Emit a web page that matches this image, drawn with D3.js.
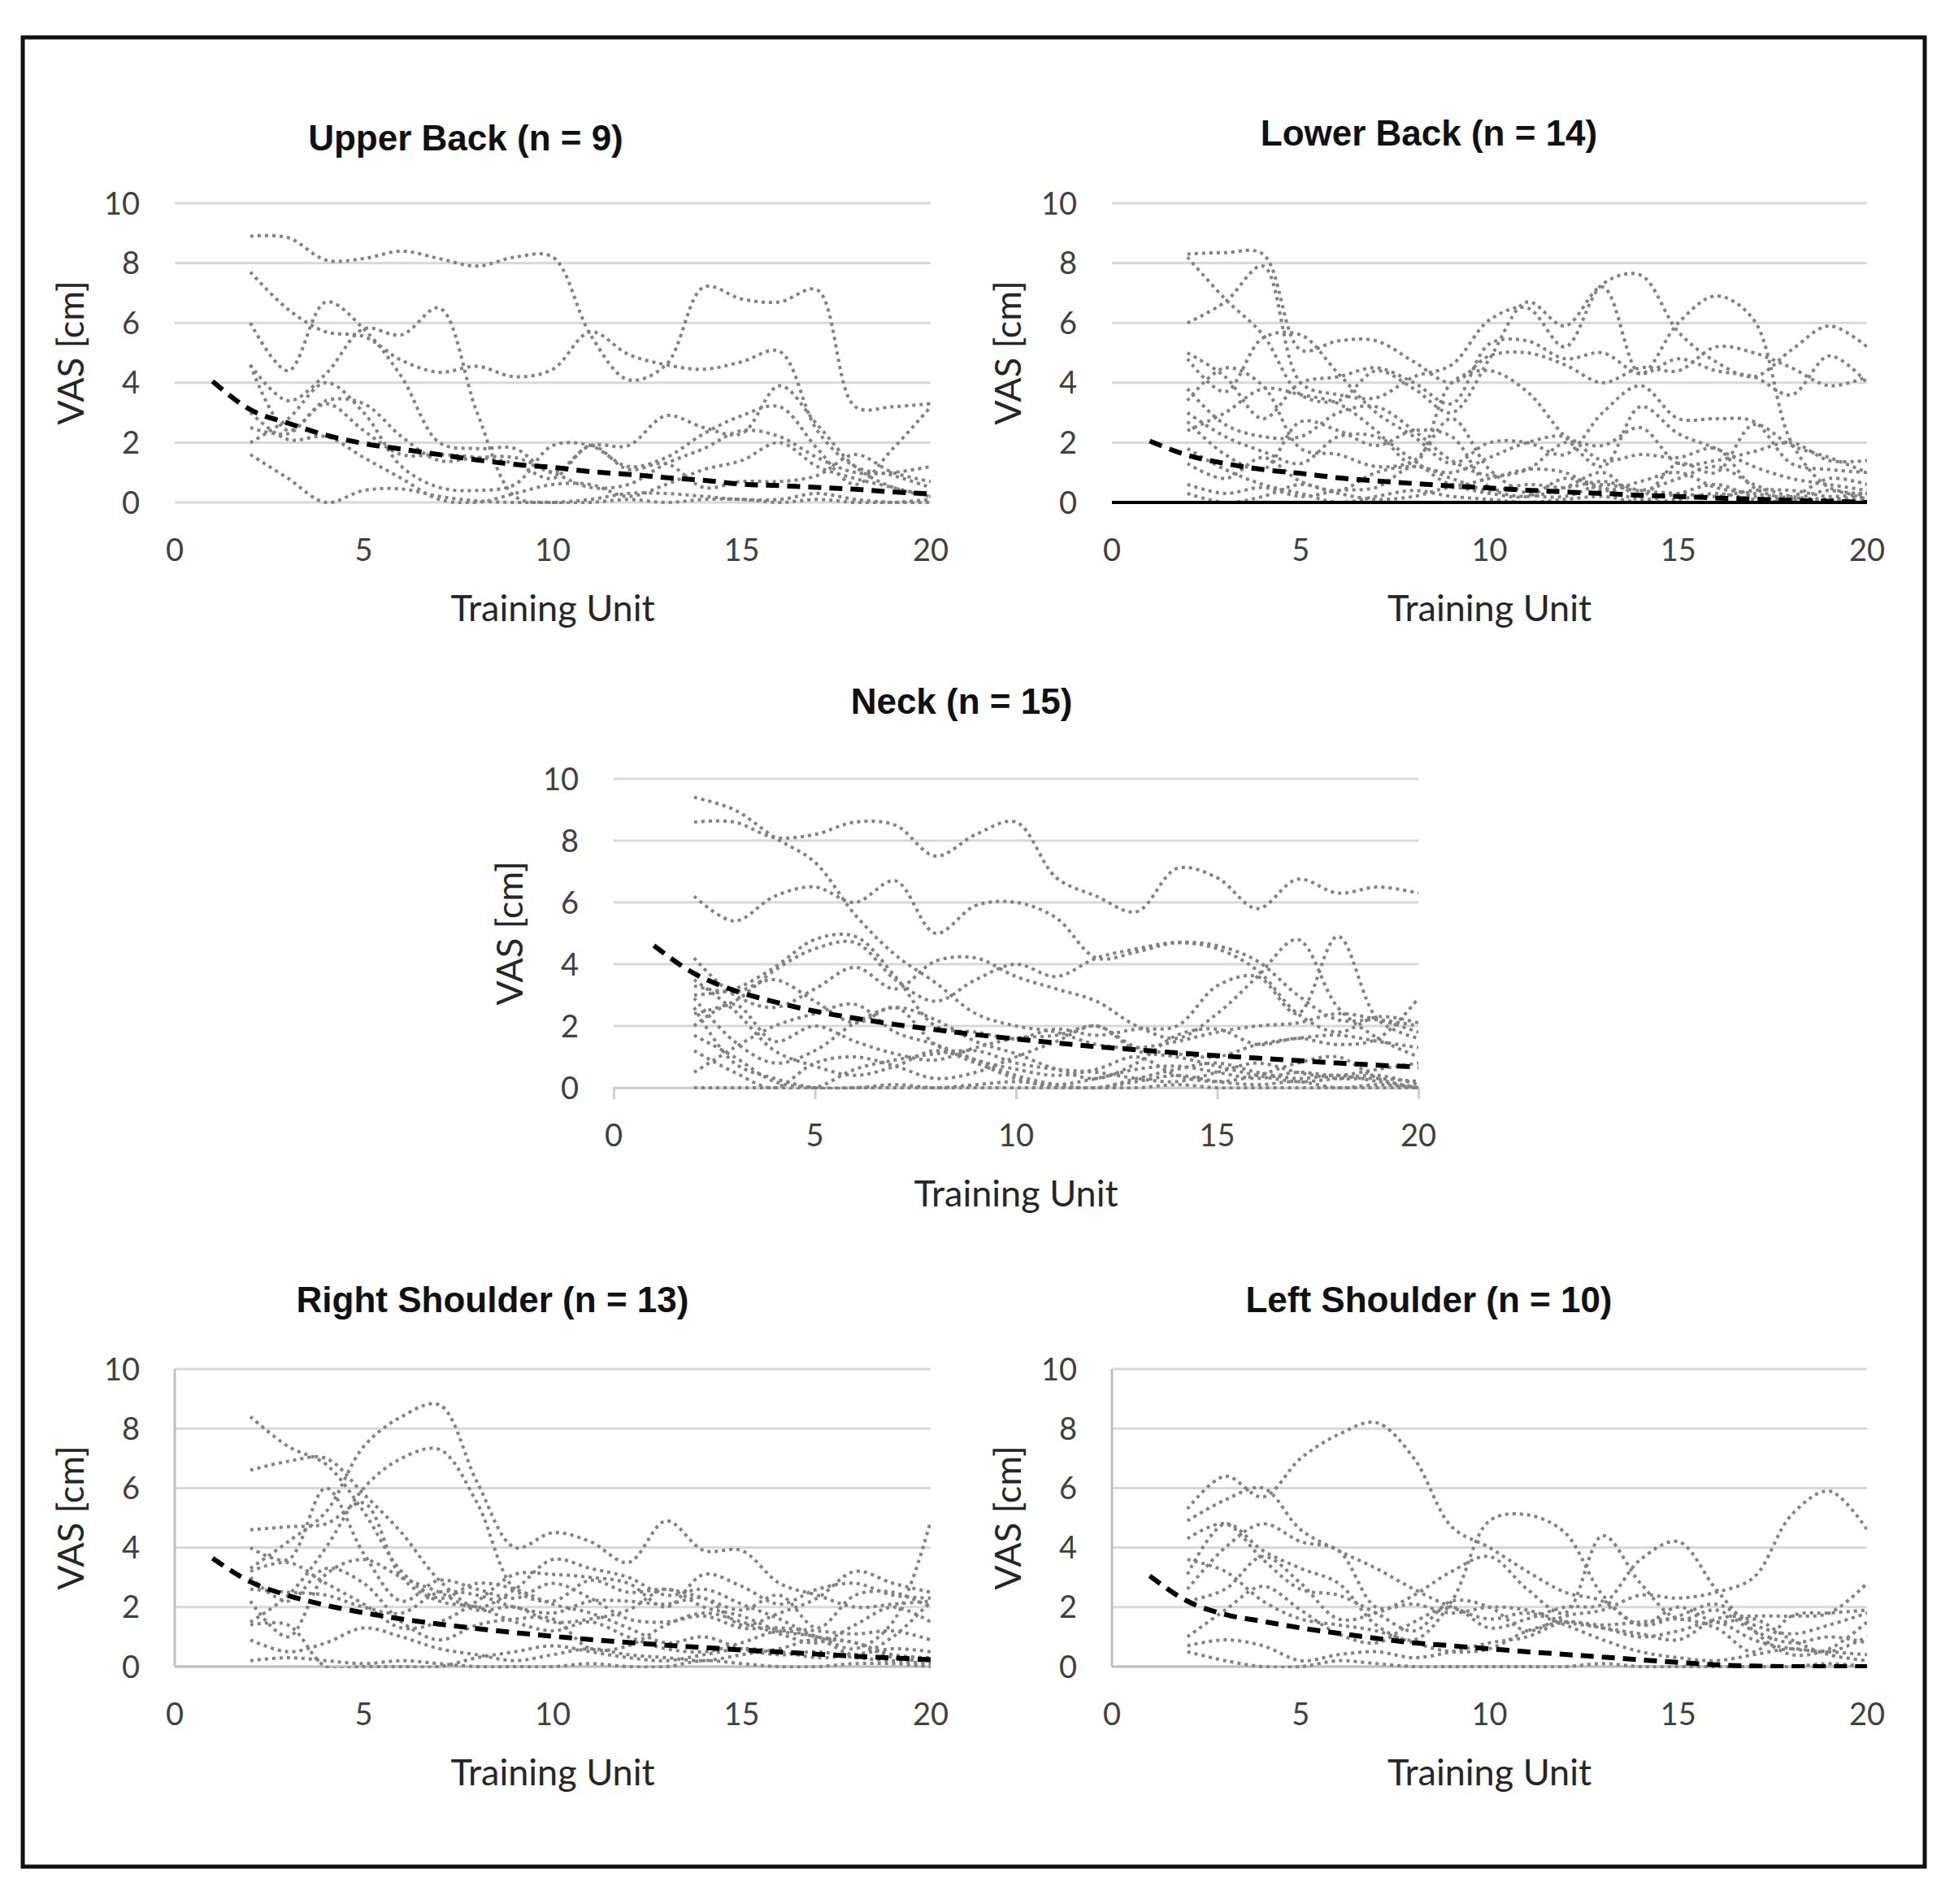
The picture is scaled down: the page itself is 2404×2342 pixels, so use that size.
<!DOCTYPE html>
<html>
<head>
<meta charset="utf-8">
<script src="https://cdn.jsdelivr.net/npm/d3@7"></script>
<style>
  body { margin: 0; background: #fff; }
</style>
</head>
<body>
<div id="chart"></div>
<script>
// training units with a measurement (unit 1 only has the trend)
var units = [2, 3, 4, 5, 6, 7, 8, 9, 10, 11, 12, 13, 14, 15, 16, 17, 18, 19, 20];
var trendUnits = [1, 2, 3, 4, 5, 6, 7, 8, 9, 10, 11, 12, 13, 14, 15, 16, 17, 18, 19, 20];
var xTicks = [0, 5, 10, 15, 20];
var yTicks = [0, 2, 4, 6, 8, 10];

var upperBack = [
  [8.9, 8.85, 8.1, 8.15, 8.4, 8.15, 7.9, 8.2, 8.2, 5.6, 4.1, 4.6, 7.2, 6.8, 6.7, 7.1, 3.2, 3.2, 3.3],
  [7.7, 6.45, 5.7, 5.55, 4.75, 4.35, 4.55, 4.2, 4.45, 5.7, 4.95, 4.6, 4.45, 4.7, 5.05, 2.4, 1.2, 0.9, 0.5],
  [6.0, 4.4, 6.7, 5.8, 4.2, 2.0, 1.8, 1.8, 1.0, 1.9, 1.9, 2.9, 2.5, 2.3, 3.9, 2.6, 1.2, 0.5, 0.2],
  [4.6, 3.4, 4.3, 5.8, 5.6, 6.5, 3.0, 0.2, 0.0, 0.0, 0.1, 0.0, 0.1, 0.1, 0.0, 0.1, 0.0, 0.0, 0.1],
  [1.6, 0.8, 0.0, 0.4, 0.45, 0.2, 0.05, 0.0, 0.0, 0.1, 0.3, 0.3, 0.2, 0.1, 0.1, 0.3, 0.1, 0.0, 0.0],
  [4.6, 2.4, 3.4, 3.3, 2.2, 1.4, 1.5, 1.5, 1.0, 0.5, 0.6, 1.3, 1.8, 2.4, 2.2, 1.5, 1.0, 1.0, 1.2],
  [2.0, 2.8, 4.0, 3.0, 1.2, 0.5, 0.4, 0.6, 1.9, 1.9, 1.2, 1.5, 2.3, 2.9, 3.2, 1.8, 0.6, 1.8, 3.2],
  [3.0, 2.1, 2.2, 1.5, 0.8, 0.1, 0.0, 0.3, 0.6, 0.6, 0.2, 0.6, 1.1, 1.4, 2.0, 1.2, 0.8, 0.5, 0.2],
  [2.5, 2.3, 3.3, 2.4, 1.6, 1.6, 1.5, 1.3, 0.8, 1.9, 1.1, 1.3, 0.5, 0.7, 0.7, 0.9, 1.6, 1.0, 0.7]
];
var upperBackTrend = [4.05, 3.1, 2.65, 2.25, 1.97, 1.78, 1.6, 1.42, 1.27, 1.17, 1.03, 0.94, 0.83, 0.74, 0.61, 0.56, 0.5, 0.44, 0.35, 0.29];

var lowerBack = [
  [8.3, 8.35, 8.3, 5.1, 5.4, 5.4, 4.7, 4.0, 4.9, 5.0, 4.6, 4.0, 4.5, 4.4, 5.2, 5.0, 4.5, 3.9, 4.2],
  [6.0, 6.7, 7.9, 4.0, 3.6, 3.5, 4.2, 4.6, 6.1, 6.5, 5.2, 7.3, 7.6, 5.7, 4.7, 4.2, 5.1, 5.9, 5.2],
  [8.2, 6.8, 5.6, 3.6, 3.4, 4.4, 3.8, 3.0, 4.8, 6.7, 5.9, 7.2, 4.3, 6.0, 6.9, 6.1, 2.0, 0.5, 0.3],
  [4.8, 3.7, 5.5, 5.6, 4.3, 3.0, 2.2, 1.3, 2.0, 2.0, 1.6, 3.0, 3.9, 2.8, 2.8, 2.7, 1.3, 1.1, 1.0],
  [3.8, 2.6, 2.2, 2.2, 3.0, 3.2, 2.4, 1.4, 0.9, 1.1, 2.0, 1.9, 2.5, 1.3, 1.4, 1.7, 2.0, 1.4, 1.4],
  [2.4, 3.0, 3.8, 3.6, 3.3, 2.4, 1.3, 4.0, 4.4, 3.7, 2.2, 1.2, 3.2, 2.3, 1.8, 1.2, 0.8, 0.6, 0.4],
  [3.0, 2.2, 1.7, 1.3, 2.2, 2.2, 1.4, 0.6, 0.8, 1.1, 1.0, 0.4, 0.7, 1.0, 0.5, 0.3, 0.2, 0.8, 0.6],
  [1.3, 0.8, 1.5, 0.7, 0.4, 1.0, 1.2, 1.0, 1.5, 2.0, 2.2, 1.4, 1.6, 1.5, 1.8, 0.5, 0.1, 0.1, 0.2],
  [0.6, 0.3, 0.5, 0.2, 0.4, 0.5, 1.2, 0.8, 0.4, 0.6, 0.5, 0.7, 0.4, 0.3, 0.2, 0.4, 0.4, 0.2, 0.3],
  [0.3, 0.0, 0.2, 0.6, 0.3, 0.1, 0.2, 0.5, 0.3, 0.2, 0.8, 0.5, 0.1, 0.3, 0.6, 0.2, 0.1, 0.4, 0.1],
  [3.4, 4.5, 3.9, 1.8, 1.6, 1.2, 1.4, 2.8, 1.1, 0.3, 0.2, 0.6, 0.4, 0.8, 1.2, 0.6, 0.2, 0.1, 0.0],
  [2.7, 1.6, 1.1, 2.7, 2.4, 1.9, 2.4, 2.2, 0.5, 0.2, 0.5, 1.0, 0.2, 1.3, 1.0, 2.6, 1.9, 1.5, 1.0],
  [5.0, 4.2, 2.8, 4.0, 4.2, 4.5, 4.0, 3.3, 5.3, 5.4, 4.8, 5.0, 4.3, 4.8, 4.4, 4.2, 3.6, 4.9, 4.0],
  [1.8, 1.1, 0.6, 0.3, 0.0, 0.2, 0.4, 0.2, 0.1, 0.0, 0.1, 0.2, 0.0, 0.1, 0.3, 0.1, 0.0, 0.0, 0.1]
];
var lowerBackTrend = [2.05, 1.58, 1.3, 1.1, 0.97, 0.82, 0.72, 0.63, 0.55, 0.48, 0.41, 0.35, 0.3, 0.24, 0.2, 0.15, 0.11, 0.07, 0.04, 0.0];

var neck = [
  [8.6, 8.6, 8.1, 8.2, 8.6, 8.5, 7.5, 8.2, 8.6, 6.8, 6.2, 5.7, 7.1, 6.8, 5.8, 6.75, 6.3, 6.5, 6.3],
  [9.4, 9.0, 8.1, 7.3, 5.6, 4.3, 3.4, 2.4, 2.0, 1.8, 1.4, 1.3, 1.5, 1.8, 2.0, 2.1, 2.4, 2.2, 1.8],
  [6.2, 5.4, 6.2, 6.5, 6.0, 6.7, 5.0, 5.9, 6.0, 5.5, 4.2, 4.4, 4.7, 4.6, 4.1, 3.0, 2.2, 2.2, 2.0],
  [2.4, 2.8, 3.8, 4.5, 4.7, 3.5, 2.8, 3.5, 4.0, 3.6, 4.2, 4.5, 4.7, 4.5, 3.8, 2.4, 1.8, 2.3, 2.1],
  [4.2, 3.0, 2.6, 3.2, 3.9, 3.2, 4.1, 4.2, 3.6, 3.2, 2.8, 2.0, 1.6, 2.4, 3.6, 4.8, 2.6, 1.6, 1.0],
  [3.0, 3.2, 3.9, 4.8, 4.9, 3.6, 2.0, 1.8, 1.6, 1.9, 1.7, 1.9, 2.0, 3.3, 3.6, 2.4, 4.9, 2.2, 1.6],
  [2.9, 1.5, 0.8, 1.2, 2.1, 2.6, 2.2, 1.5, 1.1, 0.6, 0.3, 0.8, 1.7, 1.9, 1.4, 1.6, 1.4, 1.6, 2.9],
  [2.0, 2.7, 1.5, 2.0, 1.5, 1.1, 0.9, 1.3, 1.6, 1.7, 2.0, 1.3, 1.1, 1.0, 1.4, 1.6, 1.7, 1.5, 1.3],
  [0.5, 1.3, 2.0, 2.4, 2.7, 1.8, 1.4, 0.9, 0.4, 0.1, 0.0, 0.3, 0.6, 0.8, 0.5, 0.3, 0.4, 0.2, 0.0],
  [2.6, 0.8, 0.3, 0.0, 0.0, 0.1, 0.0, 0.1, 0.2, 0.1, 0.3, 0.6, 0.7, 0.5, 0.3, 0.5, 0.4, 0.6, 0.8],
  [3.5, 2.5, 1.2, 0.7, 0.4, 0.7, 1.2, 0.8, 0.3, 0.0, 0.0, 0.2, 0.4, 0.2, 0.1, 0.2, 0.0, 0.1, 0.0],
  [1.7, 1.0, 0.2, 0.0, 0.0, 0.0, 0.0, 0.0, 0.0, 0.0, 0.0, 0.0, 0.1, 0.0, 0.0, 0.0, 0.0, 0.0, 0.0],
  [0.0, 0.0, 0.0, 0.0, 0.6, 0.9, 1.1, 1.2, 0.8, 0.6, 0.5, 0.3, 0.2, 0.5, 0.8, 0.5, 0.3, 0.3, 0.2],
  [3.3, 3.1, 3.5, 2.8, 2.1, 2.6, 1.4, 0.9, 0.6, 0.4, 0.6, 1.0, 0.4, 0.2, 0.4, 0.8, 1.0, 0.3, 0.0],
  [1.2, 0.5, 0.0, 0.8, 1.0, 0.7, 0.3, 0.5, 1.0, 1.5, 2.0, 1.2, 1.0, 0.7, 0.4, 0.2, 0.3, 0.4, 0.1]
];
var neckTrend = [4.6, 3.7, 3.15, 2.78, 2.48, 2.25, 2.05, 1.88, 1.72, 1.58, 1.45, 1.33, 1.23, 1.13, 1.04, 0.96, 0.88, 0.8, 0.73, 0.67];

var rightShoulder = [
  [3.3, 4.2, 5.2, 7.4, 8.4, 8.8, 6.2, 4.0, 4.5, 4.2, 3.5, 4.9, 3.9, 3.9, 2.8, 2.4, 2.0, 2.1, 2.2],
  [1.5, 2.4, 4.0, 6.0, 7.0, 7.3, 5.5, 2.6, 2.2, 2.9, 2.5, 2.6, 2.3, 1.9, 2.4, 1.3, 2.4, 2.5, 2.0],
  [8.4, 7.4, 6.8, 5.2, 3.2, 2.3, 2.8, 2.6, 2.1, 1.8, 1.3, 0.8, 1.0, 0.6, 0.4, 0.5, 0.3, 0.2, 0.1],
  [6.6, 6.9, 7.0, 5.8, 4.5, 2.9, 2.0, 2.6, 3.6, 3.3, 3.0, 2.4, 2.6, 2.1, 1.6, 1.0, 0.8, 0.4, 0.3],
  [4.6, 4.7, 4.8, 5.5, 3.0, 2.2, 2.0, 1.5, 1.2, 1.5, 1.0, 0.6, 0.5, 0.8, 1.2, 1.0, 0.8, 0.3, 0.2],
  [1.4, 1.4, 0.0, 0.0, 0.0, 0.0, 0.3, 0.5, 0.7, 0.5, 0.3, 0.2, 0.4, 0.6, 0.5, 0.3, 0.4, 0.6, 0.5],
  [0.2, 0.3, 0.2, 0.1, 0.2, 0.1, 0.0, 0.0, 0.0, 0.1, 0.0, 0.0, 0.2, 0.1, 0.0, 0.0, 0.1, 0.1, 0.0],
  [2.2, 1.0, 3.1, 3.6, 3.0, 2.5, 1.9, 2.0, 1.5, 1.6, 1.9, 2.6, 2.0, 1.7, 1.2, 1.0, 0.6, 1.5, 4.9],
  [3.2, 3.5, 2.8, 2.1, 1.3, 1.5, 2.2, 3.1, 3.1, 3.0, 2.8, 2.0, 3.1, 2.7, 2.1, 2.6, 2.8, 2.4, 2.3],
  [2.6, 2.5, 2.4, 2.0, 1.8, 2.5, 2.4, 2.0, 1.8, 2.2, 2.2, 2.1, 2.3, 1.4, 1.8, 2.3, 3.2, 2.8, 2.5],
  [0.9, 0.5, 0.8, 1.3, 1.0, 0.6, 0.4, 0.2, 0.4, 0.6, 0.4, 0.3, 0.2, 0.4, 0.6, 0.9, 0.4, 1.0, 2.2],
  [3.0, 2.2, 3.3, 2.8, 1.5, 0.9, 1.4, 1.6, 1.6, 0.6, 0.7, 1.4, 1.8, 1.5, 1.1, 0.8, 1.4, 2.0, 1.5],
  [4.0, 3.6, 6.0, 3.8, 2.2, 2.9, 2.6, 2.3, 2.8, 2.3, 1.6, 1.5, 1.7, 1.3, 1.3, 1.2, 1.1, 1.2, 0.9]
];
var rightShoulderTrend = [3.64, 2.85, 2.39, 2.06, 1.81, 1.6, 1.43, 1.28, 1.14, 1.02, 0.91, 0.81, 0.72, 0.64, 0.56, 0.49, 0.42, 0.35, 0.29, 0.23];

var leftShoulder = [
  [5.3, 6.4, 5.7, 7.0, 7.8, 8.2, 7.0, 4.7, 4.0, 3.2, 2.5, 2.2, 1.4, 1.7, 2.1, 1.4, 1.1, 1.4, 1.8],
  [4.3, 4.8, 3.6, 2.6, 2.4, 1.8, 1.2, 2.2, 2.0, 1.2, 1.7, 1.9, 2.4, 2.3, 2.5, 3.0, 5.1, 5.9, 4.6],
  [3.1, 4.8, 3.9, 3.3, 2.8, 1.4, 0.9, 2.2, 4.9, 5.1, 4.5, 2.4, 1.4, 2.0, 1.5, 1.6, 0.9, 0.4, 0.2],
  [2.2, 2.6, 3.7, 2.8, 1.6, 1.8, 2.4, 3.2, 3.7, 2.6, 1.8, 4.4, 2.8, 1.6, 1.9, 1.2, 0.8, 1.0, 0.8],
  [1.0, 1.9, 2.7, 1.9, 1.1, 0.8, 1.5, 2.0, 1.3, 1.6, 2.0, 2.1, 3.6, 4.2, 2.6, 1.2, 0.4, 0.6, 1.5],
  [0.7, 0.9, 0.7, 0.2, 0.4, 0.5, 0.3, 0.5, 0.8, 1.0, 1.5, 1.3, 1.1, 0.9, 1.6, 1.7, 1.7, 1.8, 2.8],
  [3.6, 3.2, 2.2, 1.6, 1.4, 1.2, 0.8, 0.5, 0.6, 1.2, 1.5, 1.4, 1.5, 1.6, 1.3, 0.5, 1.7, 1.8, 1.9],
  [2.6, 4.0, 4.8, 4.2, 3.9, 2.0, 2.1, 1.8, 2.0, 1.9, 1.5, 1.3, 1.0, 1.2, 1.5, 0.9, 0.6, 0.5, 0.4],
  [0.5, 0.2, 0.0, 0.0, 0.2, 0.1, 0.0, 0.0, 0.0, 0.0, 0.0, 0.1, 0.0, 0.0, 0.0, 0.0, 0.0, 0.1, 0.0],
  [4.9, 5.6, 6.0, 4.6, 3.9, 3.3, 2.6, 2.0, 1.6, 1.8, 1.4, 0.9, 0.5, 0.3, 0.2, 0.4, 0.6, 0.5, 1.0]
];
var leftShoulderTrend = [3.05, 2.2, 1.75, 1.52, 1.3, 1.12, 0.95, 0.8, 0.7, 0.6, 0.5, 0.41, 0.32, 0.23, 0.14, 0.06, 0.02, 0.0, 0.0, 0.0];

var W = 2404, H = 2342;

var svg = d3.select("#chart")
    .append("svg")
    .attr("width", W)
    .attr("height", H);

svg.append("rect")
    .attr("x", 28).attr("y", 46)
    .attr("width", 2340).attr("height", 2250)
    .style("fill", "none")
    .style("stroke", "#111")
    .style("stroke-width", 5);

// panel layout
var panels = [
  {id: "ub", title: "Upper Back (n = 9)", series: upperBack, trend: upperBackTrend,
   l: 215, r: 1145, t: 250, b: 618, tx: 573, ty: 169, axis: "grid"},
  {id: "lb", title: "Lower Back (n = 14)", series: lowerBack, trend: lowerBackTrend,
   l: 1368, r: 2297, t: 250, b: 618, tx: 1758, ty: 163, axis: "black"},
  {id: "nk", title: "Neck (n = 15)", series: neck, trend: neckTrend,
   l: 755, r: 1745, t: 958, b: 1338, tx: 1183, ty: 862, axis: "ticks"},
  {id: "rs", title: "Right Shoulder (n = 13)", series: rightShoulder, trend: rightShoulderTrend,
   l: 215, r: 1145, t: 1684, b: 2050, tx: 606, ty: 1598, axis: "box"},
  {id: "ls", title: "Left Shoulder (n = 10)", series: leftShoulder, trend: leftShoulderTrend,
   l: 1368, r: 2297, t: 1684, b: 2050, tx: 1758, ty: 1598, axis: "box"}
];

panels.forEach(function(p) {
    var x = d3.scaleLinear().domain([0, 20]).range([p.l, p.r]);
    var y = d3.scaleLinear().domain([0, 10]).range([p.b, p.t]);
    var g = svg.append("g");

    g.append("clipPath").attr("id", "clip-" + p.id)
      .append("rect")
        .attr("x", p.l).attr("y", p.t - 4)
        .attr("width", p.r - p.l).attr("height", p.b - p.t + 6);

    // gridlines
    g.selectAll(".grid")
        .data(yTicks)
        .enter()
        .append("line")
        .attr("x1", p.l).attr("x2", p.r)
        .attr("y1", function(d) { return y(d); })
        .attr("y2", function(d) { return y(d); })
        .style("stroke", "#d9d9d9")
        .style("stroke-width", 3);

    if (p.axis == "box") {
        g.append("line")
            .attr("x1", p.l).attr("x2", p.l)
            .attr("y1", p.t).attr("y2", p.b)
            .style("stroke", "#bfbfbf").style("stroke-width", 3);
        g.append("line")
            .attr("x1", p.l).attr("x2", p.r)
            .attr("y1", p.b).attr("y2", p.b)
            .style("stroke", "#bfbfbf").style("stroke-width", 3);
    }
    if (p.axis == "ticks") {
        var ax = g.append("g")
            .attr("transform", "translate(0," + p.b + ")")
            .call(d3.axisBottom(x).tickValues(xTicks).tickSize(14).tickFormat(""));
        ax.selectAll("path, line").style("stroke", "#d0d0d0").style("stroke-width", 3);
    }

    // y tick labels
    g.selectAll(".ylab")
        .data(yTicks)
        .enter()
        .append("text")
        .attr("x", p.l - 43)
        .attr("y", function(d) { return y(d); })
        .attr("dy", "0.36em")
        .attr("text-anchor", "end")
        .style("font-family", "Lato, 'Open Sans', sans-serif")
        .style("font-size", "38px")
        .style("fill", "#404040")
        .text(function(d) { return d; });

    // x tick labels
    g.selectAll(".xlab")
        .data(xTicks)
        .enter()
        .append("text")
        .attr("x", function(d) { return x(d); })
        .attr("y", p.b + 58)
        .attr("dy", "0.36em")
        .attr("text-anchor", "middle")
        .style("font-family", "Lato, 'Open Sans', sans-serif")
        .style("font-size", "38px")
        .style("fill", "#404040")
        .text(function(d) { return d; });

    // axis titles
    g.append("text")
        .attr("x", (p.l + p.r) / 2)
        .attr("y", p.b + 130)
        .attr("dy", "0.36em")
        .attr("text-anchor", "middle")
        .style("font-family", "Lato, 'Open Sans', sans-serif")
        .style("font-size", "45px")
        .style("fill", "#262626")
        .text("Training Unit");

    g.append("text")
        .attr("transform", "translate(" + (p.l - 128) + "," + ((p.t + p.b) / 2) + ") rotate(-90)")
        .attr("dy", "0.36em")
        .attr("text-anchor", "middle")
        .style("font-family", "Lato, 'Open Sans', sans-serif")
        .style("font-size", "45px")
        .style("fill", "#262626")
        .text("VAS [cm]");

    // panel title
    g.append("text")
        .attr("x", p.tx)
        .attr("y", p.ty)
        .attr("dy", "0.36em")
        .attr("text-anchor", "middle")
        .style("font-family", "'Liberation Sans', Arial, sans-serif")
        .style("font-weight", "bold")
        .style("font-size", "44px")
        .style("fill", "#111")
        .text(p.title);

    var line = d3.line()
        .x(function(d, i) { return x(units[i]); })
        .y(function(d) { return y(d); })
        .curve(d3.curveCatmullRom.alpha(0.5));

    var plot = g.append("g").attr("clip-path", "url(#clip-" + p.id + ")");

    plot.selectAll(".series")
        .data(p.series)
        .enter()
        .append("path")
        .attr("d", line)
        .style("fill", "none")
        .style("stroke", "#828282")
        .style("stroke-width", 4)
        .style("stroke-dasharray", "4,5");

    if (p.axis == "black") {
        g.append("line")
            .attr("x1", x(0)).attr("x2", x(20))
            .attr("y1", y(0)).attr("y2", y(0))
            .style("stroke", "#000").style("stroke-width", 4);
    }

    var trendLine = d3.line()
        .x(function(d, i) { return x(trendUnits[i]); })
        .y(function(d) { return y(d); })
        .curve(d3.curveMonotoneX);

    plot.append("path")
        .datum(p.trend)
        .attr("d", trendLine)
        .style("fill", "none")
        .style("stroke", "#000")
        .style("stroke-width", 6)
        .style("stroke-dasharray", "16,10");
});
</script>
</body>
</html>
